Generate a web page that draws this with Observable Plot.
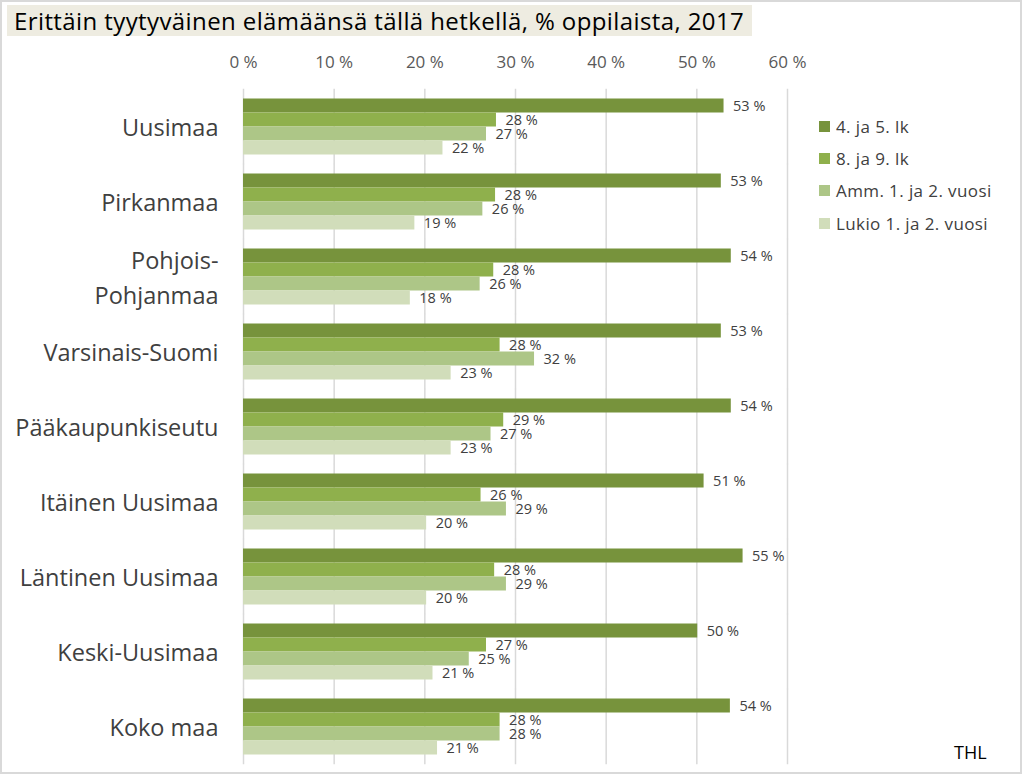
<!DOCTYPE html>
<html><head><meta charset="utf-8">
<script src="https://cdn.jsdelivr.net/npm/d3@7"></script>
<script src="https://cdn.jsdelivr.net/npm/@observablehq/plot@0.6"></script>
<style>
body{margin:0;background:#fff;}
#wrap{position:relative;width:1024px;height:776px;overflow:hidden;font-family:"Open Sans",sans-serif;background:#fff}
#frame{position:absolute;left:0;top:0;width:1022px;height:774px;border:2px solid #d9d9d9;box-sizing:border-box}
#title{position:absolute;left:7px;top:5px;width:745px;height:31px;background:#eeece1;font-size:24px;letter-spacing:0.4px;line-height:31px;padding-left:7px;color:#000;box-sizing:border-box;white-space:nowrap;overflow:hidden}
#chart{position:absolute;left:0;top:0}
#legend{position:absolute;left:819px;top:110px;font-size:17px;letter-spacing:0.4px;color:#404040}
.li{height:32.3px;display:flex;align-items:center}
.sw{width:11px;height:11px;margin-right:6px;flex:none}
#thl{position:absolute;left:954px;top:740px;font-size:18px;color:#000}
</style></head><body>
<div id="wrap">
<div id="frame"></div>
<div id="chart"></div>
<div id="title"></div>
<div id="legend"></div>
<div id="thl">THL</div>
</div>
<script>
const titleText = "Erittäin tyytyväinen elämäänsä tällä hetkellä, % oppilaista, 2017";
const regions = ["Uusimaa","Pirkanmaa","Pohjois-Pohjanmaa","Varsinais-Suomi","Pääkaupunkiseutu","Itäinen Uusimaa","Läntinen Uusimaa","Keski-Uusimaa","Koko maa"];
const regionLabels = {"Pohjois-Pohjanmaa":"Pohjois-\nPohjanmaa"};
const series = ["4. ja 5. lk","8. ja 9. lk","Amm. 1. ja 2. vuosi","Lukio 1. ja 2. vuosi"];
const colors = ["#77933c","#8fb04c","#adc687","#d1ddba"];
const v45   = [53.0,52.7,53.8,52.7,53.8,50.8,55.1,50.1,53.7];
const v89   = [27.9,27.8,27.6,28.3,28.7,26.2,27.7,26.8,28.3];
const vAmm  = [26.8,26.4,26.1,32.1,27.3,29.0,29.0,24.9,28.3];
const vLuk  = [22.0,18.9,18.4,22.9,22.9,20.2,20.2,20.9,21.4];
const xTicks = [0,10,20,30,40,50,60];

document.getElementById("title").textContent = titleText;
const lg = document.getElementById("legend");
series.forEach((s,i)=>{
  const d = document.createElement("div"); d.className="li";
  const sw = document.createElement("span"); sw.className="sw"; sw.style.background=colors[i];
  d.appendChild(sw); d.appendChild(document.createTextNode(s)); lg.appendChild(d);
});

const seriesValues = [v45,v89,vAmm,vLuk];
const rows = regions.flatMap((r,i)=>seriesValues.map((arr,j)=>({region:r, series:series[j], value:arr[i]})));

const chart = Plot.plot({
  width:1024, height:776,
  marginLeft:243, marginRight:237, marginTop:88.5, marginBottom:12.5,
  style:{fontFamily:"Open Sans", background:"transparent"},
  x:{domain:[0,60], axis:null},
  y:{domain:series, axis:null, padding:0},
  fy:{domain:regions, paddingInner:0.22, paddingOuter:0.11, axis:null},
  color:{domain:series, range:colors},
  marks:[
    Plot.ruleX(xTicks, {stroke:"#d9d9d9", strokeWidth:1.5, insetTop:-8.25, insetBottom:-8.25}),
    Plot.barX(rows, {x:"value", y:"series", fy:"region", fill:"series"}),
    Plot.text(rows, {x:"value", y:"series", fy:"region", text:d=>Math.round(d.value)+" %", textAnchor:"start", dx:9, fontSize:14.5, fill:"#404040"}),
    Plot.axisX({anchor:"top", ticks:xTicks, tickFormat:d=>d+" %", tickSize:0, tickPadding:30, fontSize:17, color:"#595959", label:null}),
    Plot.axisFy({anchor:"left", tickSize:0, tickPadding:25, fontSize:23.5, dy:-2, tickFormat:d=>regionLabels[d] ?? d, lineHeight:1.5, color:"#404040", label:null})
  ]
});
document.getElementById("chart").appendChild(chart);
</script>
</body></html>
